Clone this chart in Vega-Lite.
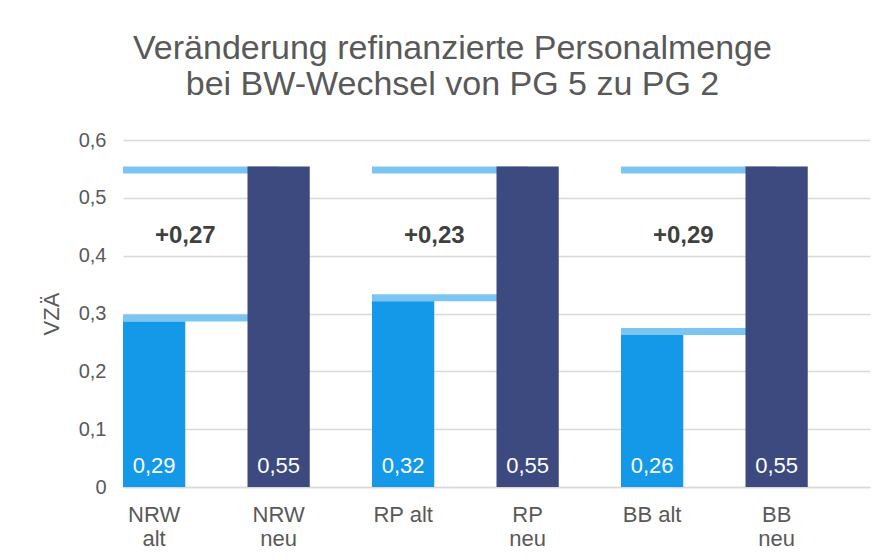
{
  "$schema": "https://vega.github.io/schema/vega-lite/v6.json",
  "width": 747,
  "height": 347,
  "autosize": "none",
  "padding": {"left": 123, "top": 140, "right": 15, "bottom": 73},
  "background": "white",
  "config": {
    "view": {"stroke": null},
    "font": "Liberation Sans",
    "axis": {"labelFont": "Liberation Sans", "titleFont": "Liberation Sans"}
  },
  "title": {
    "text": ["Veränderung refinanzierte Personalmenge", "bei BW-Wechsel von PG 5 zu PG 2"],
    "fontSize": 34,
    "fontWeight": "normal",
    "color": "#595959",
    "lineHeight": 36,
    "offset": 28,
    "dx": -44,
    "anchor": "middle"
  },
  "datasets": {
    "bars": [
      {"cat": "NRW alt", "grp": "alt", "value": 0.286, "label": "0,29"},
      {"cat": "NRW neu", "grp": "neu", "value": 0.554, "label": "0,55"},
      {"cat": "RP alt", "grp": "alt", "value": 0.321, "label": "0,32"},
      {"cat": "RP neu", "grp": "neu", "value": 0.554, "label": "0,55"},
      {"cat": "BB alt", "grp": "alt", "value": 0.263, "label": "0,26"},
      {"cat": "BB neu", "grp": "neu", "value": 0.554, "label": "0,55"}
    ],
    "pairs": [
      {"alt": "NRW alt", "neu": "NRW neu", "altValue": 0.286, "neuValue": 0.554, "delta": "+0,27"},
      {"alt": "RP alt", "neu": "RP neu", "altValue": 0.321, "neuValue": 0.554, "delta": "+0,23"},
      {"alt": "BB alt", "neu": "BB neu", "altValue": 0.263, "neuValue": 0.554, "delta": "+0,29"}
    ]
  },
  "encoding": {
    "y": {
      "type": "quantitative",
      "scale": {"domain": [0, 0.6], "nice": false},
      "axis": {
        "title": "VZÄ",
        "titleFontSize": 22,
        "titleFontWeight": "normal",
        "titleColor": "#595959",
        "titlePadding": 15,
        "values": [0, 0.1, 0.2, 0.3, 0.4, 0.5, 0.6],
        "labelExpr": "datum.value == 0 ? '0' : replace(format(datum.value, '.1f'), '.', ',')",
        "labelFontSize": 20,
        "labelColor": "#595959",
        "labelPadding": 17,
        "ticks": false,
        "tickSize": 0,
        "domain": false,
        "grid": true,
        "gridColor": "#d9d9d9",
        "gridWidth": 1.3
      }
    }
  },
  "layer": [
    {
      "data": {"name": "pairs"},
      "mark": {"type": "rule", "strokeWidth": 7, "color": "#7cc4f2", "yOffset": 3.5},
      "encoding": {
        "x": {
          "field": "alt", "type": "nominal", "bandPosition": 0,
          "scale": {"domain": ["NRW alt", "NRW neu", "RP alt", "RP neu", "BB alt", "BB neu"], "paddingInner": 0.5, "paddingOuter": 0.25, "align": 0},
          "axis": {
            "title": null,
            "labelExpr": "(datum.value == 'RP alt' || datum.value == 'BB alt') ? datum.value : split(datum.value, ' ')",
            "labelAngle": 0,
            "labelFontSize": 22,
            "labelColor": "#595959",
            "labelLineHeight": 24,
            "labelPadding": 17,
            "ticks": false,
            "tickSize": 0,
            "domain": true,
            "domainColor": "#d9d9d9",
            "domainWidth": 1.5
          }
        },
        "x2": {"field": "neu"},
        "y": {"field": "neuValue", "type": "quantitative"}
      }
    },
    {
      "data": {"name": "pairs"},
      "mark": {"type": "rule", "strokeWidth": 7, "color": "#7cc4f2", "yOffset": -3.5},
      "encoding": {
        "x": {"field": "alt", "type": "nominal", "bandPosition": 0, "title": null},
        "x2": {"field": "neu"},
        "y": {"field": "altValue", "type": "quantitative"}
      }
    },
    {
      "data": {"name": "bars"},
      "mark": {"type": "bar"},
      "encoding": {
        "x": {"field": "cat", "type": "nominal", "title": null},
        "y": {"field": "value", "type": "quantitative"},
        "color": {
          "field": "grp", "type": "nominal",
          "scale": {"domain": ["alt", "neu"], "range": ["#1499e9", "#3c4a80"]},
          "legend": null
        }
      }
    },
    {
      "data": {"name": "bars"},
      "mark": {"type": "text", "color": "white", "fontSize": 22, "baseline": "alphabetic", "dy": -14},
      "encoding": {
        "x": {"field": "cat", "type": "nominal", "title": null},
        "y": {"datum": 0},
        "text": {"field": "label"}
      }
    },
    {
      "data": {"name": "pairs"},
      "mark": {"type": "text", "color": "#404040", "fontSize": 24, "fontWeight": "bold", "baseline": "middle"},
      "encoding": {
        "x": {"field": "alt", "type": "nominal", "bandPosition": 1, "title": null},
        "y": {"datum": 0.434},
        "text": {"field": "delta"}
      }
    }
  ]
}
